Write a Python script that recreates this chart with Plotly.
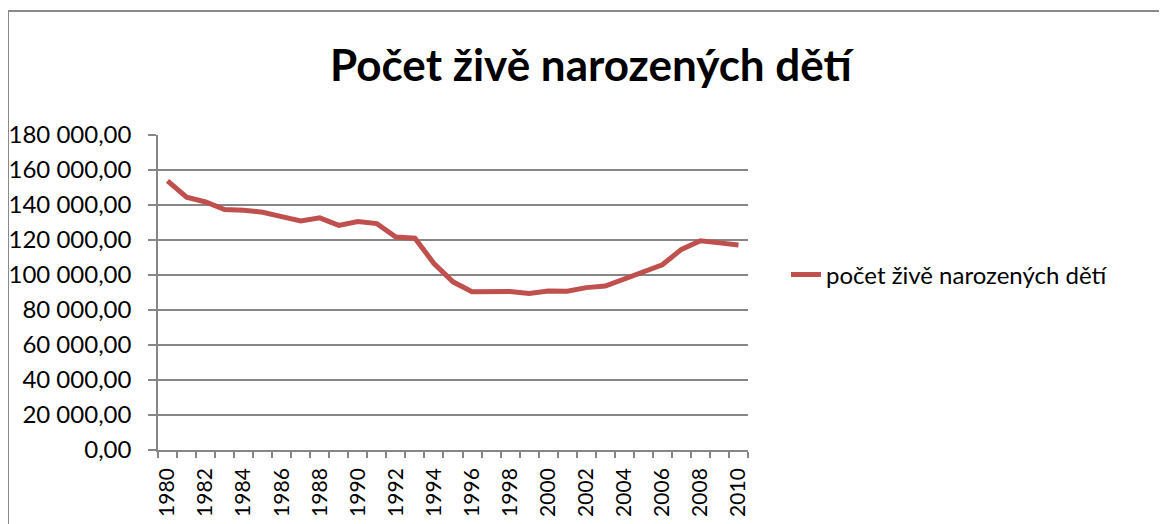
import plotly.graph_objects as go

years = list(range(1980, 2011))
births = [153801, 144438, 141738, 137431, 136941, 135881, 133356, 130921, 132667, 128356,
          130564, 129354, 121705, 121025, 106579, 96097, 90446, 90657, 90535, 89471,
          90910, 90715, 92786, 93685, 97664, 102211, 105831, 114632, 119570, 118348, 117153]
series_name = "počet živě narozených dětí"
title_text = "Počet živě narozených dětí"
label_years = years[::2]
y_ticks = list(range(0, 180001, 20000))

W, H = 1167, 524
OFF = 8  # page body margin offset
L, R, T, B = 158 - OFF, 748 - OFF, 135 - OFF, 450 - OFF
FONT = "Lato"
GRID = "#868686"

fig = go.Figure()
fig.add_trace(go.Scatter(x=years, y=births, mode="lines", name=series_name,
                         line=dict(color="#C0504D", width=5)))

def px_x(p):
    return (p - OFF - L) / (R - L)

def px_y(p):
    return (B - (p - OFF)) / (B - T)

fig.update_layout(
    width=W, height=H,
    margin=dict(l=L, r=W - R, t=T, b=H - B),
    paper_bgcolor="white", plot_bgcolor="white",
    separators=", ",
    font=dict(family=FONT, size=24, color="black"),
    title=dict(text="<b>" + title_text + "</b>", x=(591 - OFF) / W, xanchor="center",
               y=1 - (66 - OFF) / H, yanchor="middle", font=dict(family=FONT, size=44, color="black")),
    showlegend=True,
    legend=dict(x=px_x(786), y=px_y(275), xanchor="left", yanchor="middle",
                font=dict(family=FONT, size=24), bgcolor="rgba(0,0,0,0)"),
    xaxis=dict(range=[years[0] - 0.5, years[-1] + 0.5], tickmode="array", tickvals=label_years,
               ticktext=[str(y) for y in label_years], tickangle=-90, ticks="", showgrid=False,
               showline=True, linecolor=GRID, linewidth=1.5, zeroline=False,
               ticklabelstandoff=8, automargin=False, tickfont=dict(family=FONT, size=21),
               minor=dict(tickmode="array", tickvals=[y - 0.5 for y in years] + [years[-1] + 0.5],
                          ticks="outside", ticklen=6, tickcolor=GRID, tickwidth=1.5, showgrid=False)),
    yaxis=dict(range=[0, 180000], tickmode="array", tickvals=y_ticks, tickformat=",.2f",
               ticks="outside", ticklen=8, tickcolor=GRID, tickwidth=1.5,
               showgrid=True, gridcolor=GRID, gridwidth=1.5, automargin=False,
               ticklabelstandoff=12,
               showline=True, linecolor=GRID, linewidth=1.5, zeroline=False),
    shapes=[dict(type="rect", xref="paper", yref="paper",
                 x0=px_x(8), x1=px_x(1300), y0=px_y(700), y1=px_y(11),
                 line=dict(color="#8a8a8a", width=2), fillcolor="rgba(0,0,0,0)", layer="below")],
)

fig.write_html("out.html")
